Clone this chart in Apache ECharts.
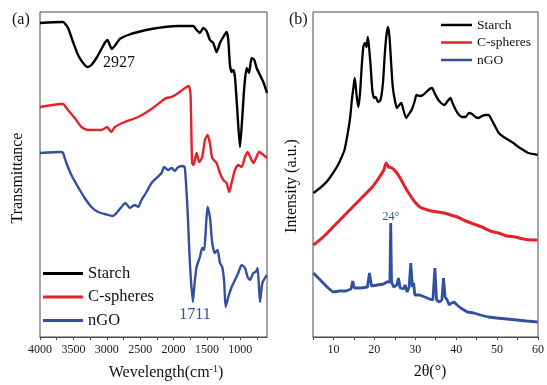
<!DOCTYPE html>
<html>
<head>
<meta charset="utf-8">
<script src="https://cdn.jsdelivr.net/npm/echarts@6/dist/echarts.min.js"></script>
<style>
  html, body { margin: 0; padding: 0; background: #fff; }
  #chart { width: 547px; height: 385px; }
</style>
</head>
<body>
<div id="chart"></div>
<script>
// (a) FTIR spectra: [wavenumber (cm-1), transmittance (a.u., offset)]
const starchIR = [[4000,314],[3680,315],[3655,315],[3580,309],[3505,295],[3430,282],[3355,274],[3290,270],[3230,272],[3155,279],[3080,288],[3030,294],[2990,297],[2955,292],[2927,288],[2870,292],[2805,298],[2680,302],[2530,305],[2330,308],[2130,310],[1930,311],[1705,311],[1655,307],[1605,304],[1555,309],[1505,306],[1455,297],[1405,294],[1355,285],[1305,294],[1255,300],[1205,305],[1180,297],[1155,272],[1130,265],[1105,267],[1080,260],[1045,227],[1005,190],[970,220],[940,250],[905,269],[870,264],[830,279],[790,277],[755,269],[705,262],[655,255],[600,244]];
const cSpheresIR = [[4000,230],[3680,233],[3655,233],[3580,227],[3480,219],[3380,210],[3280,207],[3080,207],[2995,210],[2970,208],[2930,205],[2880,210],[2730,215],[2530,220],[2330,228],[2155,237],[2105,239],[2030,240],[1930,244],[1805,250],[1770,251],[1745,242],[1722,174],[1700,172],[1655,184],[1615,175],[1570,180],[1530,197],[1490,202],[1455,194],[1420,179],[1355,174],[1305,164],[1255,157],[1205,154],[1165,145],[1120,157],[1080,167],[1030,172],[980,170],[930,180],[890,185],[845,179],[805,174],[770,178],[720,185],[670,183],[600,179]];
const nGOIR = [[4000,184],[3680,185],[3655,184],[3605,174],[3530,162],[3430,150],[3330,139],[3230,130],[3130,125],[3030,123],[2905,121],[2855,124],[2780,130],[2720,134],[2655,129],[2580,132],[2530,130],[2480,137],[2405,145],[2330,154],[2255,159],[2180,164],[2140,170],[2080,167],[2030,169],[1980,166],[1930,170],[1855,171],[1830,169],[1790,127],[1755,74],[1711,35],[1690,50],[1655,70],[1605,80],[1570,89],[1540,87],[1515,110],[1490,130],[1455,120],[1420,94],[1380,84],[1340,87],[1305,74],[1270,70],[1240,54],[1220,30],[1180,40],[1130,50],[1080,57],[1030,64],[980,72],[930,69],[890,60],[855,57],[805,64],[770,65],[740,69],[705,35],[670,54],[630,59],[600,62]];

// (b) XRD patterns: [2θ (deg), intensity (a.u., offset)]
const starchXRD = [[5.1,144],[6.7,149],[8.3,155],[9.9,164],[11.1,172],[11.9,179],[12.7,187],[13.5,204],[14.1,220],[14.5,237],[14.9,250],[15.2,259],[15.7,240],[16.1,230],[16.5,244],[16.9,270],[17.3,290],[17.7,294],[18.1,290],[18.4,300],[18.7,290],[19.1,270],[19.5,247],[19.9,239],[20.3,240],[20.9,235],[21.5,237],[22.1,254],[22.5,280],[22.9,300],[23.3,310],[23.7,300],[24.1,274],[24.5,250],[25.0,237],[25.5,229],[26.1,232],[26.6,234],[27.1,227],[27.8,219],[28.3,222],[29.1,227],[29.8,235],[30.3,242],[31.1,241],[31.9,242],[32.7,245],[33.5,248],[34.1,249],[34.7,244],[35.5,238],[36.3,234],[37.1,232],[37.9,236],[38.6,239],[39.1,234],[39.9,227],[40.7,222],[41.5,220],[42.3,220],[43.1,224],[43.9,223],[44.7,220],[45.5,219],[46.3,221],[47.1,222],[47.9,222],[48.7,217],[49.6,210],[50.4,204],[51.6,200],[52.8,197],[54.0,194],[55.2,190],[56.4,187],[57.6,184],[58.8,183],[59.9,182]];
const cSpheresXRD = [[5.1,92],[7.5,100],[9.9,110],[12.3,120],[14.7,130],[17.1,140],[19.5,150],[21.1,159],[22.3,167],[22.9,174],[23.5,170],[24.3,169],[25.3,165],[26.3,159],[27.5,150],[28.7,142],[29.9,135],[31.1,130],[32.3,128],[33.9,126],[35.5,125],[37.1,124],[38.7,122],[40.3,120],[42.3,116],[44.3,113],[46.3,110],[48.3,106],[50.4,104],[52.4,101],[54.4,100],[56.4,98],[58.4,97],[59.9,97]];
const nGOXRD = [[5.1,64],[6.3,59],[7.5,54],[8.7,49],[9.9,45],[11.5,46],[13.1,46],[14.3,48],[14.7,56],[15.1,49],[16.7,49],[18.3,50],[18.8,64],[19.3,51],[20.7,52],[22.3,53],[23.0,55],[23.8,55],[24.0,114],[24.2,55],[24.7,50],[25.5,52],[25.9,59],[26.3,49],[27.1,48],[27.5,52],[28.0,45],[28.5,50],[28.9,74],[29.3,50],[29.6,54],[29.9,42],[31.1,42],[32.3,40],[33.5,38],[34.3,37],[34.8,69],[35.2,37],[35.9,35],[36.5,37],[36.9,59],[37.3,40],[37.8,37],[38.3,32],[38.9,34],[39.5,35],[40.2,32],[41.1,29],[42.7,25],[44.3,24],[45.9,22],[47.9,20],[49.9,19],[52.4,18],[54.8,17],[57.2,16],[59.9,15]];

// Axis tick values
const irLabelTicks = [4000, 3500, 3000, 2500, 2000, 1500, 1000];
const irMinorTicks = [4000, 3750, 3500, 3250, 3000, 2750, 2500, 2250, 2000, 1750, 1500, 1250, 1000, 750];
const xrdLabelStep = 10;

const seriesNames = ['Starch', 'C-spheres', 'nGO'];
const colors = ['#000000', '#e4222a', '#3150a2'];

const SERIF = "'Liberation Serif', 'Times New Roman', serif";
const AXIS_COLOR = '#4a4a4a';

const chart = echarts.init(document.getElementById('chart'), null, { renderer: 'canvas' });

const baseGrid = { show: true, borderColor: AXIS_COLOR, borderWidth: 1, backgroundColor: 'transparent' };

function lineSeries(name, idx, data, axisIdx, width, smooth) {
  return {
    name: name,
    type: 'line',
    xAxisIndex: axisIdx,
    yAxisIndex: axisIdx,
    data: data,
    showSymbol: false,
    smooth: smooth,
    animation: false,
    lineStyle: { color: colors[idx], width: width },
    itemStyle: { color: colors[idx] }
  };
}

const hiddenY = (i) => ({
  type: 'value', gridIndex: i, min: 0, max: 325,
  axisLine: { show: false }, axisTick: { show: false },
  axisLabel: { show: false }, splitLine: { show: false }
});

const option = {
  animation: false,
  grid: [
    Object.assign({ left: 40, top: 12, width: 227, height: 325 }, baseGrid),
    Object.assign({ left: 313, top: 12, width: 229, height: 325 }, baseGrid)
  ],
  xAxis: [
    {
      type: 'value', gridIndex: 0, min: 600, max: 4000, inverse: true,
      axisLine: { show: true, lineStyle: { color: AXIS_COLOR, width: 1 } },
      axisTick: { show: true, customValues: irMinorTicks, length: 3, inside: false, lineStyle: { color: AXIS_COLOR } },
      axisLabel: {
        customValues: irLabelTicks, margin: 7, fontFamily: SERIF, fontSize: 12, color: '#1a1a1a',
        formatter: (v) => String(v)
      },
      splitLine: { show: false }
    },
    {
      type: 'value', gridIndex: 1, min: 5, max: 60, interval: 5,
      axisLine: { show: true, lineStyle: { color: AXIS_COLOR, width: 1 } },
      axisTick: { show: true, length: 3, inside: false, lineStyle: { color: AXIS_COLOR } },
      axisLabel: {
        margin: 7, fontFamily: SERIF, fontSize: 12, color: '#1a1a1a',
        formatter: (v) => (v % xrdLabelStep === 0 ? String(v) : '')
      },
      splitLine: { show: false }
    }
  ],
  yAxis: [hiddenY(0), hiddenY(1)],
  legend: [
    {
      data: seriesNames, orient: 'vertical', left: 43, top: 265, padding: 0,
      icon: 'rect', itemWidth: 40, itemHeight: 3, itemGap: 6.5,
      textStyle: { fontFamily: SERIF, fontSize: 16.5, color: '#111', lineHeight: 16 },
      selectedMode: false
    },
    {
      data: seriesNames, orient: 'vertical', left: 441, top: 18, padding: 0,
      icon: 'rect', itemWidth: 31, itemHeight: 2.5, itemGap: 3.5,
      textStyle: { fontFamily: SERIF, fontSize: 13.5, color: '#111', lineHeight: 14 },
      selectedMode: false
    }
  ],
  series: [
    lineSeries(seriesNames[0], 0, starchIR, 0, 2.4, 0.2),
    lineSeries(seriesNames[1], 1, cSpheresIR, 0, 2.4, 0.2),
    lineSeries(seriesNames[2], 2, nGOIR, 0, 2.4, 0.2),
    lineSeries(seriesNames[0], 0, starchXRD, 1, 2.3, 0.2),
    lineSeries(seriesNames[1], 1, cSpheresXRD, 1, 3, 0.2),
    lineSeries(seriesNames[2], 2, nGOXRD, 1, 2.8, false)
  ],
  graphic: [
    { type: 'text', left: 12, top: 12, style: { text: '(a)', font: '16px ' + SERIF, fill: '#111' } },
    { type: 'text', left: 289, top: 12, style: { text: '(b)', font: '16px ' + SERIF, fill: '#111' } },
    { type: 'text', x: 119, y: 63, style: { text: '2927', font: '16px ' + SERIF, fill: '#111', align: 'center', verticalAlign: 'middle' } },
    { type: 'text', x: 195, y: 315, style: { text: '1711', font: '16px ' + SERIF, fill: colors[2], align: 'center', verticalAlign: 'middle' } },
    { type: 'text', x: 391, y: 217, style: { text: '24°', font: '12px ' + SERIF, fill: colors[2], align: 'center', verticalAlign: 'middle' } },
    {
      type: 'text', x: 166, y: 373,
      style: {
        text: '{a|Wevelength(cm}{s|-1}{a|)}', align: 'center', verticalAlign: 'middle',
        rich: {
          a: { fontFamily: SERIF, fontSize: 16, fill: '#111', lineHeight: 18 },
          s: { fontFamily: SERIF, fontSize: 10, fill: '#111', verticalAlign: 'top', lineHeight: 18 }
        }
      }
    },
    { type: 'text', x: 430, y: 372, style: { text: '2θ(°)', font: '16px ' + SERIF, fill: '#111', align: 'center', verticalAlign: 'middle' } },
    { type: 'text', x: 18, y: 178, rotation: Math.PI / 2, style: { text: 'Transmittance', font: '16px ' + SERIF, fill: '#111', align: 'center', verticalAlign: 'middle' } },
    { type: 'text', x: 292, y: 186, rotation: Math.PI / 2, style: { text: 'Intensity (a.u.)', font: '16px ' + SERIF, fill: '#111', align: 'center', verticalAlign: 'middle' } }
  ]
};

chart.setOption(option);
</script>
</body>
</html>
